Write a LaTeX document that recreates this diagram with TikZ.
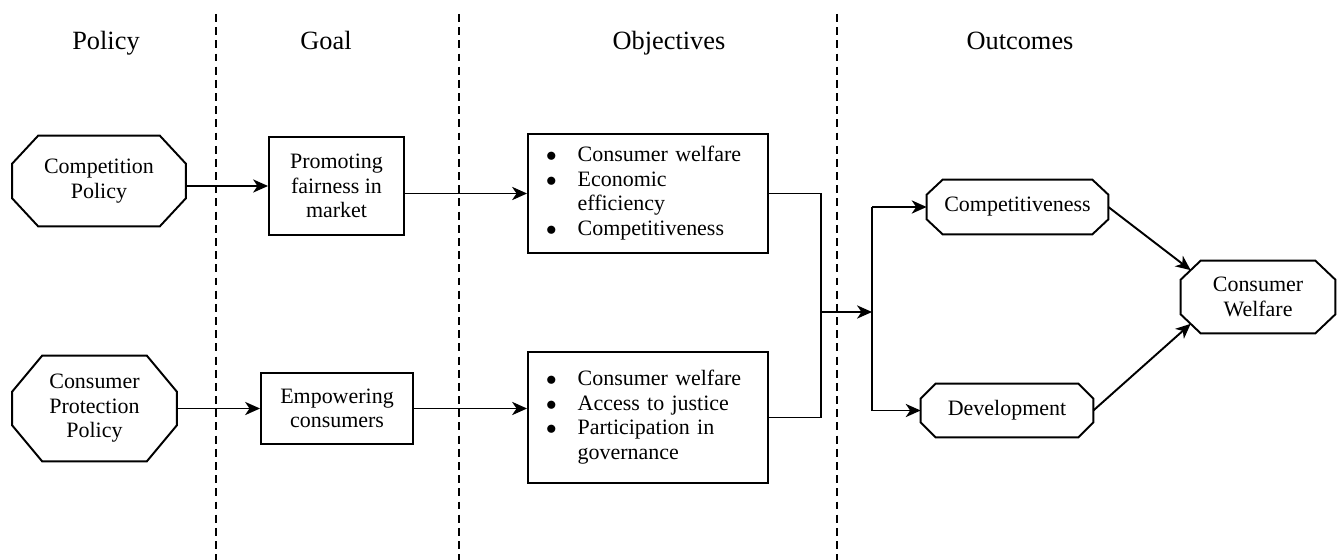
\documentclass[tikz,border=0pt]{standalone}
\usepackage{fontspec}
\setmainfont{Liberation Serif}
\usetikzlibrary{arrows.meta,positioning,calc}

\begin{document}
\begin{tikzpicture}[
  x=0.02cm,y=-0.02cm,
  line cap=butt,line join=miter,
  font=\fontsize{12.5}{13.9}\selectfont,
  oct/.style={inner sep=0pt,align=center},
  box/.style={draw,line width=1.1pt,inner sep=0pt,align=center},
  listbox/.style={draw,line width=1.1pt,minimum width=4.8cm,text width=4.08cm,
                  inner xsep=0.36cm,inner ysep=2pt,align=left},
  head/.style={font=\fontsize{15}{17}\selectfont,anchor=base},
  divider/.style={line width=1pt,dash pattern=on 4.5pt off 3pt},
  arrow/.style={-{Stealth[length=8.5pt,width=7.5pt,inset=2.5pt]},line width=1.1pt},
  link/.style={line width=1.1pt}
]
\useasboundingbox (0,0) rectangle (1337,560);

% Column headings and dividers
\node[head] (hpolicy) at (106,50) {Policy};
\node[head] (hgoal) at (326,50) {Goal};
\node[head] (hobj) at (669,50) {Objectives};
\node[head] (hout) at (1020,50) {Outcomes};
\foreach \x in {216,459,837}{\draw[divider] (\x,14)--(\x,560);}

% Policy
\node[oct,minimum width=3.46cm,minimum height=1.80cm] (comp) at (99,181) {Competition\\Policy};
\node[oct,minimum width=3.28cm,minimum height=2.10cm] (cpp) at (94.5,408.5) {Consumer\\Protection\\Policy};

% Goal
\node[box,minimum width=2.70cm,minimum height=1.96cm] (promo) at (336.5,186) {Promoting\\fairness in\\market};
\node[box,minimum width=3.04cm,minimum height=1.42cm] (emp) at (337,408.5) {Empowering\\consumers};

% Objectives
\node[listbox,minimum height=2.38cm] (obja) at (648,193.5)
  {\begin{tabular}{@{}l@{\hspace{12pt}}l@{}}
   $\bullet$ & Consumer welfare\\
   $\bullet$ & Economic\\
             & efficiency\\
   $\bullet$ & Competitiveness
   \end{tabular}};
\node[listbox,minimum height=2.62cm] (objb) at (648,417.5)
  {\begin{tabular}{@{}l@{\hspace{12pt}}l@{}}
   $\bullet$ & Consumer welfare\\
   $\bullet$ & Access to justice\\
   $\bullet$ & Participation in\\
             & governance
   \end{tabular}};

% Outcomes
\node[oct,minimum width=3.62cm,minimum height=1.08cm] (outa) at (1017.5,207) {Competitiveness};
\node[oct,minimum width=3.44cm,minimum height=1.06cm] (outb) at (1007,410.5) {Development};
\node[oct,minimum width=3.08cm,minimum height=1.44cm] (cw) at (1258,297) {Consumer\\Welfare};

\foreach \n/\cx/\cy in {comp/26/28,cpp/30/36,outa/16/15,outb/15/15,cw/20/19}{
  \draw[line width=1.1pt] ($(\n.north west)+(\cx,0)$)--($(\n.north east)+(-\cx,0)$)
    --($(\n.north east)+(0,\cy)$)--($(\n.south east)+(0,-\cy)$)
    --($(\n.south east)+(-\cx,0)$)--($(\n.south west)+(\cx,0)$)
    --($(\n.south west)+(0,-\cy)$)--($(\n.north west)+(0,\cy)$)--cycle;}

% Connectors
\coordinate (jn) at (821,312);
\coordinate (fork) at (872,312);
\draw[arrow] (comp.east |- promo.west)--(promo.west);
\draw[arrow] (promo.east |- obja.west)--(obja.west);
\draw[arrow] (cpp.east)--(emp.west);
\draw[arrow] (emp.east)--(emp.east -| objb.west);
\draw[link] (obja.east)--(obja.east -| jn)--(objb.east -| jn)--(objb.east);
\draw[arrow] (jn)--(fork);
\draw[link] (fork |- outa.west)--(fork |- outb.west);
\draw[arrow] (fork |- outa.west)--(outa.west);
\draw[arrow] (fork |- outb.west)--(outb.west);
\draw[arrow] (outa.east)--($(cw.north west)+(10,9.5)$);
\draw[arrow] (outb.east)--($(cw.south west)+(10,-9.5)$);
\end{tikzpicture}
\end{document}
